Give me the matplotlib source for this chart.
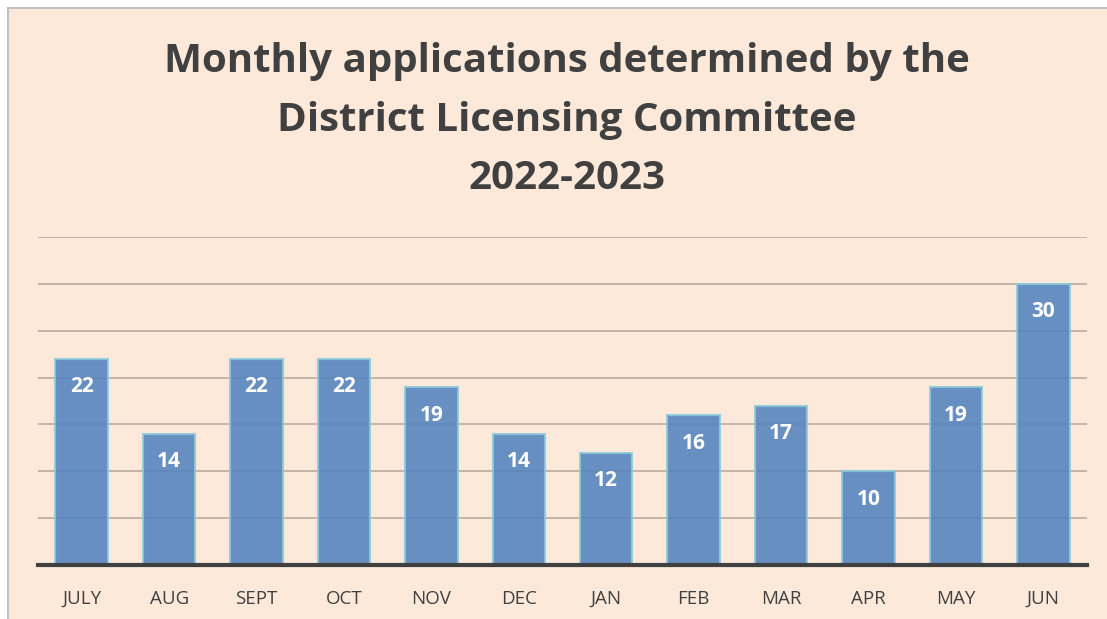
import matplotlib.pyplot as plt
from matplotlib.patches import Rectangle

months = ["JULY", "AUG", "SEPT", "OCT", "NOV", "DEC", "JAN", "FEB", "MAR", "APR", "MAY", "JUN"]
applications = [22, 14, 22, 22, 19, 14, 12, 16, 17, 10, 19, 30]
title = "Monthly applications determined by the\nDistrict Licensing Committee\n2022-2023"

W, H = 1107, 619
fig = plt.figure(figsize=(W / 100, H / 100), dpi=100)
fig.patch.set_facecolor("white")

# chart area background with grey frame on top/left (right/bottom run off the image)
bg = Rectangle((8 / W, -0.05), 1.1, 1.05 - 8 / H, transform=fig.transFigure,
               facecolor="#FDE9DA", edgecolor="#C0C0C0", linewidth=1.5, zorder=-10)
fig.patches.append(bg)

ax = fig.add_axes([38 / W, 1 - 565 / H, (1087 - 38) / W, (565 - 237) / H])
ax.set_facecolor("none")

x = range(len(months))
ax.set_axisbelow(True)
ax.yaxis.grid(True, color="#BFAFA3", linewidth=1.3)
bars = ax.bar(x, applications, width=0.6, color="#5383BE", alpha=0.88,
              edgecolor="#8BCBDA", linewidth=1.5, zorder=2)

for xi, v in zip(x, applications):
    ax.text(xi, v - 3.0, str(v), ha="center", va="center", color="white",
            fontsize=15, fontweight="bold", family="Open Sans", zorder=3)

ax.set_xlim(-0.5, len(months) - 0.5)
ax.set_ylim(0, 35)
ax.set_yticks(range(0, 36, 5))
ax.set_yticklabels([])
ax.tick_params(axis="y", length=0)
ax.tick_params(axis="x", length=0, pad=18)
ax.set_xticks(list(x))
ax.set_xticklabels(months, fontsize=13.5, color="#404040", family="Open Sans")

for s in ["top", "right", "left"]:
    ax.spines[s].set_visible(False)
ax.spines["bottom"].set_color("#404040")
ax.spines["bottom"].set_linewidth(3)
ax.spines["bottom"].set_zorder(4)

fig.text(567 / W, 1 - 120 / H, title, ha="center", va="center", fontsize=29,
         fontweight="bold", color="#404040", family="Open Sans", linespacing=1.66)

fig.savefig("out.png", dpi=100)
